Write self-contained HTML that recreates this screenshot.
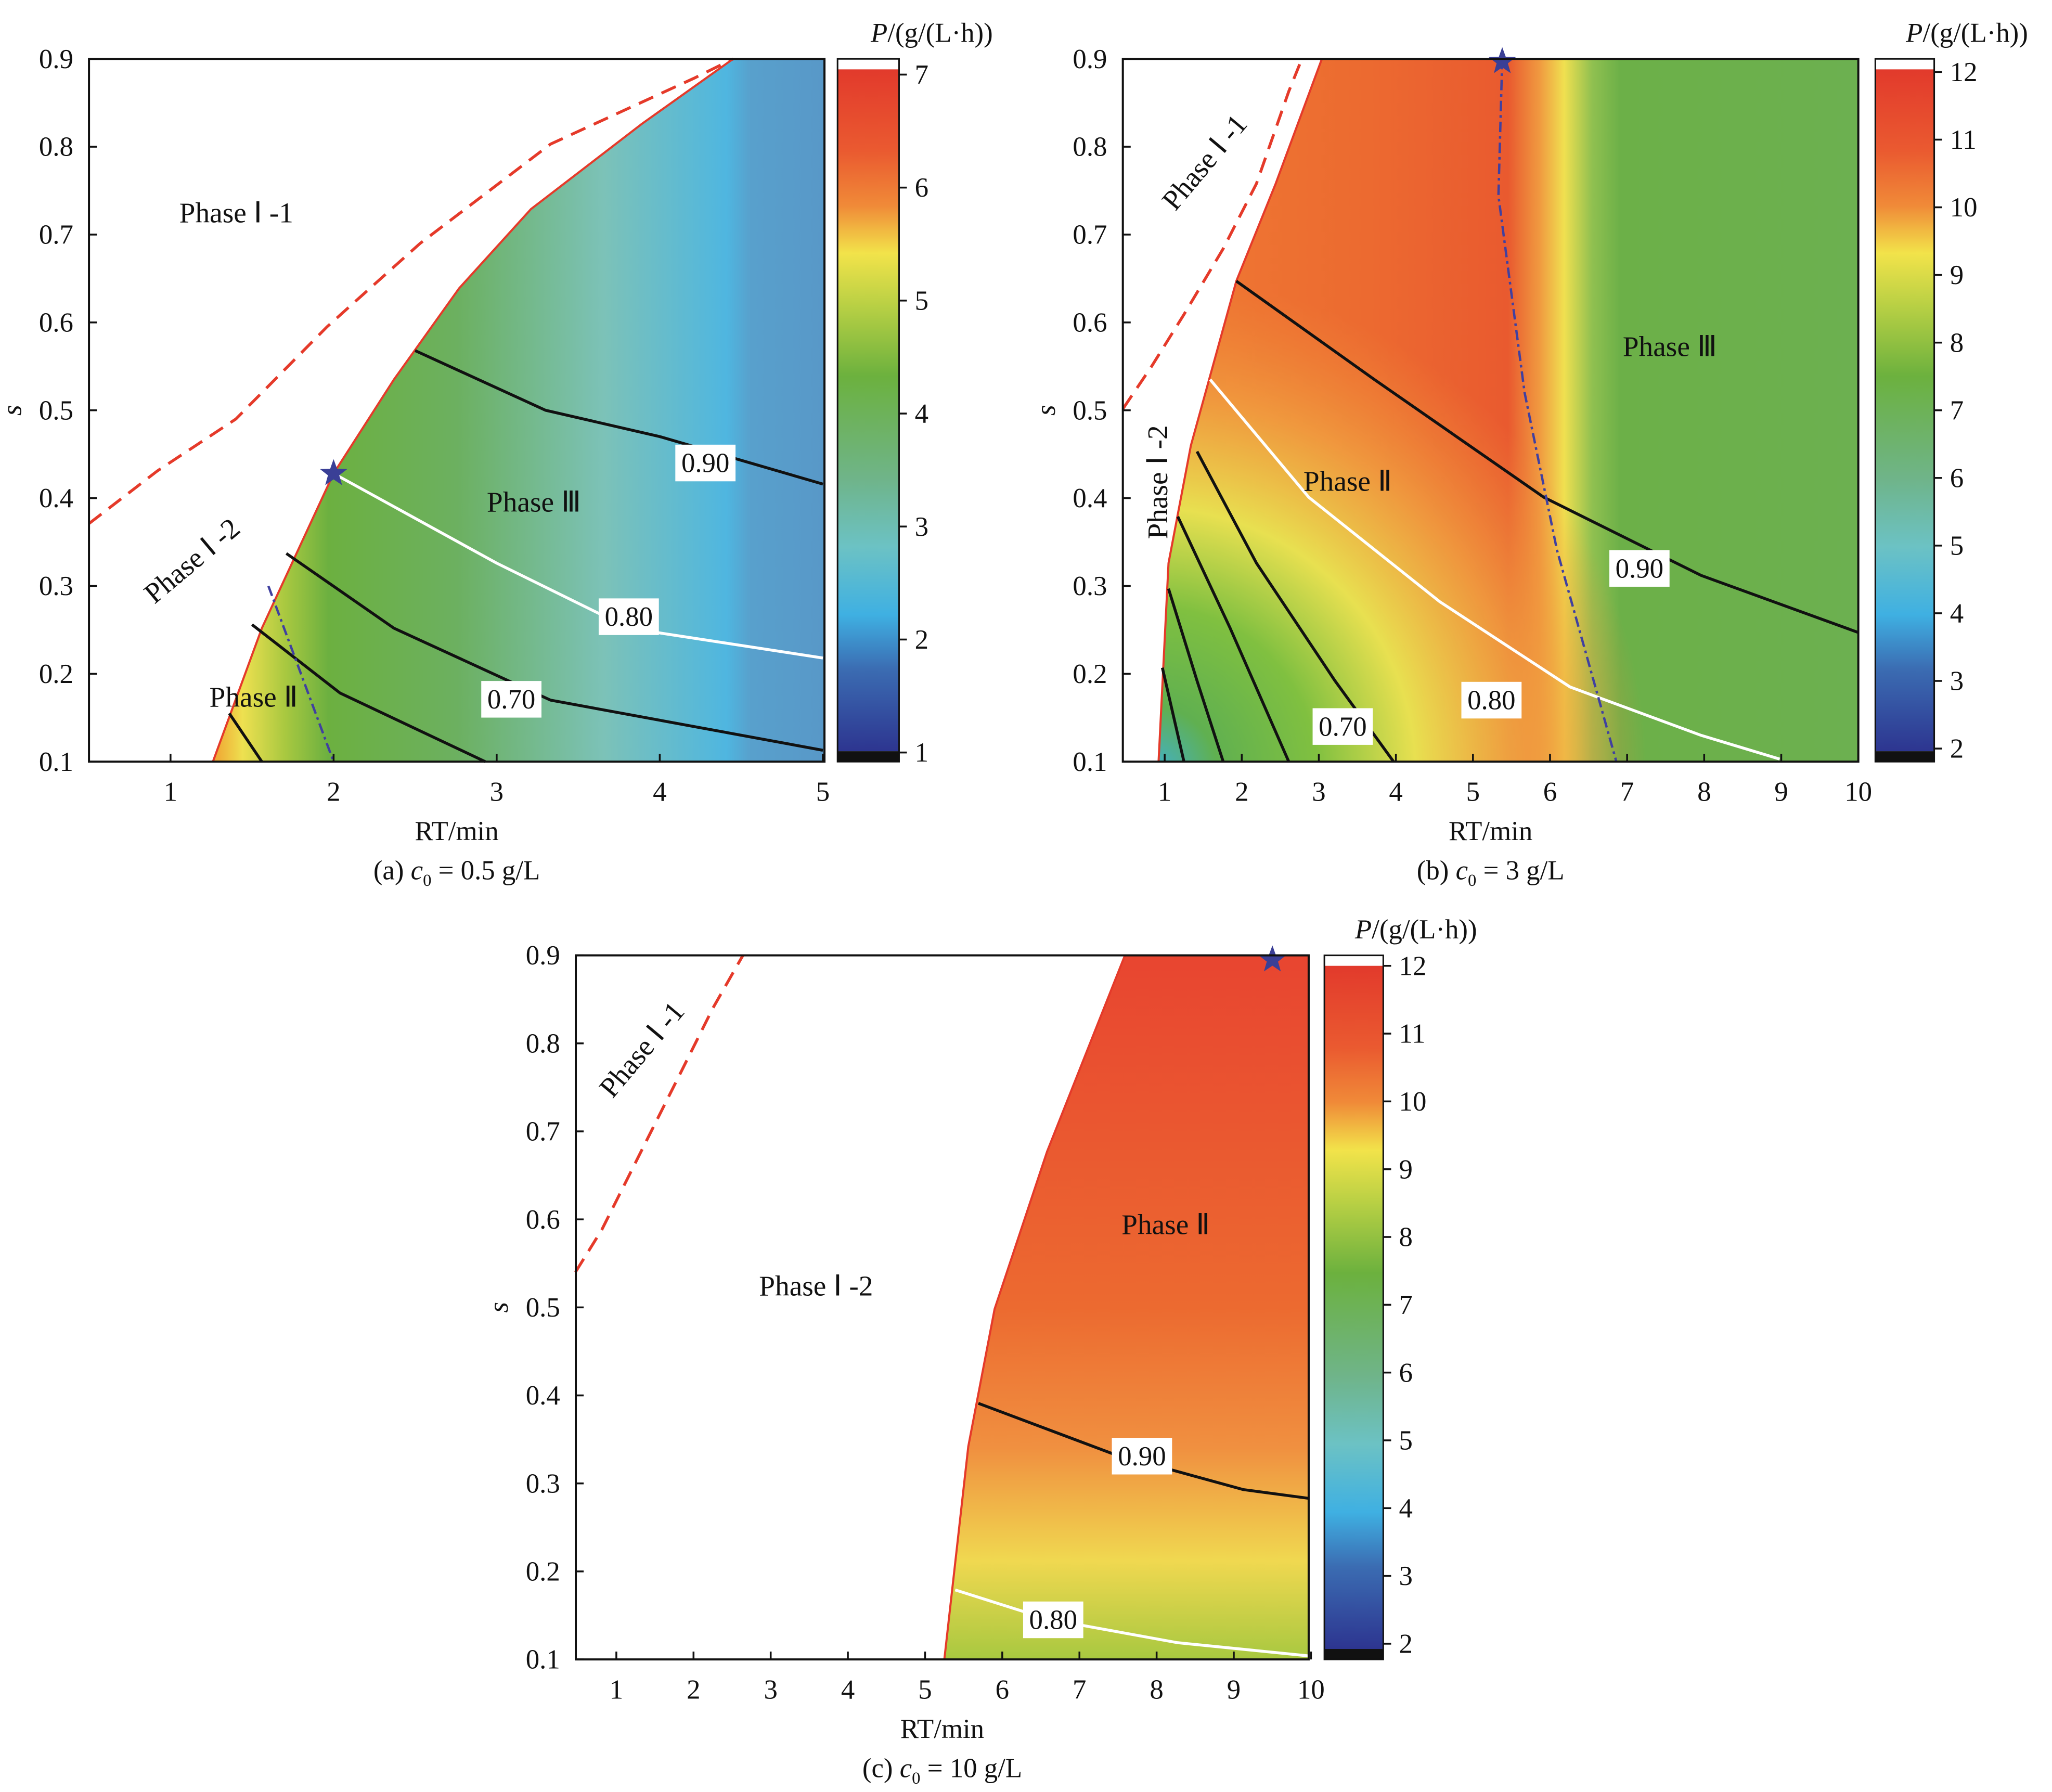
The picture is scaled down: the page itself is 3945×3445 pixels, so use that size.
<!DOCTYPE html>
<html><head><meta charset="utf-8"><style>
html,body{margin:0;padding:0;background:#fff;}
svg{display:block;}
text{font-family:"Liberation Serif",serif;fill:#111;}
</style></head><body>
<svg id="root" width="3945" height="3445" viewBox="0 0 1568 1369.3" preserveAspectRatio="none">
<defs>
<linearGradient id="cbar" x1="0" y1="0" x2="0" y2="1">
<stop offset="0" stop-color="#e23a2c"/><stop offset="0.12" stop-color="#ea5a30"/><stop offset="0.2" stop-color="#f08a38"/>
<stop offset="0.27" stop-color="#f2e34a"/><stop offset="0.35" stop-color="#b6cf44"/><stop offset="0.45" stop-color="#6cb13e"/>
<stop offset="0.6" stop-color="#6fb489"/><stop offset="0.7" stop-color="#6cc2c4"/><stop offset="0.8" stop-color="#3fb0e2"/>
<stop offset="0.88" stop-color="#3b6cb2"/><stop offset="1" stop-color="#2d3590"/>
</linearGradient>
<linearGradient id="ga" gradientUnits="userSpaceOnUse" x1="162" y1="0" x2="630" y2="0">
<stop offset="0" stop-color="#f0a030"/><stop offset="0.05" stop-color="#eee050"/><stop offset="0.12" stop-color="#a8c840"/>
<stop offset="0.19" stop-color="#6cb040"/><stop offset="0.4" stop-color="#6cb060"/><stop offset="0.64" stop-color="#7cc2b8"/>
<stop offset="0.84" stop-color="#4fb6e0"/><stop offset="0.88" stop-color="#58a0cc"/><stop offset="1" stop-color="#5898c8"/>
</linearGradient>
<linearGradient id="gb" gradientUnits="userSpaceOnUse" x1="885" y1="0" x2="1420" y2="0">
<stop offset="0" stop-color="#ef7a33"/><stop offset="0.3" stop-color="#ec6a30"/><stop offset="0.5" stop-color="#e95a2f"/><stop offset="0.545" stop-color="#f09a40"/>
<stop offset="0.58" stop-color="#f0e050"/><stop offset="0.62" stop-color="#90c050"/><stop offset="0.66" stop-color="#6cb048"/>
<stop offset="1" stop-color="#6cb050"/>
</linearGradient>
<radialGradient id="rb" gradientUnits="userSpaceOnUse" cx="880" cy="590" r="420">
<stop offset="0" stop-color="#40b0d0"/><stop offset="0.12" stop-color="#60b050"/><stop offset="0.3" stop-color="#80c040"/>
<stop offset="0.48" stop-color="#e8e050"/><stop offset="0.68" stop-color="#f0a040" stop-opacity="0.85"/><stop offset="0.9" stop-color="#f08a38" stop-opacity="0"/>
</radialGradient>
<linearGradient id="gc" gradientUnits="userSpaceOnUse" x1="0" y1="730" x2="0" y2="1268">
<stop offset="0" stop-color="#e84530"/><stop offset="0.5" stop-color="#ec6a30"/><stop offset="0.7" stop-color="#f09040"/>
<stop offset="0.86" stop-color="#f0d850"/><stop offset="1" stop-color="#a8c840"/>
</linearGradient>
</defs>
<g id="pa"></g>
<g id="pb"></g>
<g id="pc"></g>
</svg>
<script>
// ---- Panel a data (RT, s) ----
const aXTicks=[1,2,3,4,5];
const aBoundaryRT=[1.26,1.56,2.0,2.37,2.77,3.21,3.89,4.45];
const aBoundaryS=[0.1,0.252,0.428,0.535,0.639,0.729,0.826,0.9];
const aC90RT=[2.5,3.3,4.0,5.0], aC90S=[0.568,0.50,0.47,0.416];
const aC80RT=[2.0,3.0,3.81,5.0], aC80S=[0.428,0.326,0.252,0.218];
const aC70RT=[1.71,2.37,3.33,5.0], aC70S=[0.337,0.252,0.17,0.113];
const aC60RT=[1.5,2.04,2.93], aC60S=[0.256,0.178,0.1];
const aC50RT=[1.36,1.56], aC50S=[0.155,0.1];
const aDashRT=[1.6,2.0], aDashS=[0.3,0.1];
const aPhaseRT=[0.5,0.92,1.4,1.96,2.53,3.33,4.21,4.45], aPhaseS=[0.371,0.431,0.49,0.595,0.69,0.803,0.878,0.9];
const aStar=[2.0,0.428];
const aLabels=[["0.90",4.28,0.44],["0.80",3.81,0.265],["0.70",3.09,0.171]];
const aCbTicks=[1,2,3,4,5,6,7];
// ---- Panel b data ----
const bXTicks=[1,2,3,4,5,6,7,8,9,10];
const bBoundaryRT=[0.92,1.05,1.34,1.93,2.44,3.04], bBoundaryS=[0.1,0.326,0.46,0.647,0.758,0.9];
const bC90RT=[1.93,3.72,5.92,7.96,10], bC90S=[0.647,0.535,0.401,0.312,0.247];
const bC80RT=[1.59,2.87,4.57,6.26,7.96,8.98], bC80S=[0.535,0.401,0.282,0.185,0.130,0.103];
const bL1RT=[1.42,2.19,3.21,3.97], bL1S=[0.453,0.326,0.192,0.1];
const bL2RT=[1.17,1.85,2.61], bL2S=[0.379,0.252,0.1];
const bL3RT=[1.05,1.42,1.76], bL3S=[0.297,0.192,0.1];
const bL4RT=[0.97,1.25], bL4S=[0.207,0.1];
const bDashRT=[5.38,5.33,5.67,6.09,6.86], bDashS=[0.9,0.744,0.52,0.341,0.1];
const bPhaseRT=[0.46,0.83,1.25,1.76,2.19,2.61,2.78], bPhaseS=[0.502,0.55,0.609,0.684,0.758,0.863,0.9];
const bStar=[5.38,0.897];
const bLabels=[["0.90",7.16,0.32],["0.80",5.24,0.17],["0.70",3.31,0.14]];
const bCbTicks=[2,3,4,5,6,7,8,9,10,11,12];
// ---- Panel c data ----
const cXTicks=[1,2,3,4,5,6,7,8,9,10];
const cBoundaryRT=[5.25,5.56,5.9,6.58,7.59], cBoundaryS=[0.1,0.342,0.498,0.677,0.9];
const cC90RT=[5.69,7.42,9.12,9.97], cC90S=[0.391,0.334,0.293,0.283];
const cC80RT=[5.39,6.58,8.27,9.97], cC80S=[0.179,0.146,0.119,0.104];
const cPhaseRT=[0.47,0.81,1.32,1.83,2.25,2.64], cPhaseS=[0.54,0.588,0.677,0.766,0.84,0.9];
const cStar=[9.5,0.895];
const cLabels=[["0.90",7.81,0.331],["0.80",6.66,0.145]];
const cCbTicks=[2,3,4,5,6,7,8,9,10,11,12];
const yTicks=[0.1,0.2,0.3,0.4,0.5,0.6,0.7,0.8,0.9];

const NS="http://www.w3.org/2000/svg";
function mk(parent,tag,attrs,txt){const e=document.createElementNS(NS,tag);for(const k in attrs)e.setAttribute(k,attrs[k]);if(txt!==undefined)e.textContent=txt;parent.appendChild(e);return e;}
function pathD(X,Y,rt,s){return rt.map((v,i)=>(i?"L":"M")+X(v).toFixed(1)+","+Y(s[i]).toFixed(1)).join(" ");}

function panel(g,cfg){
 const {L,R,T,B,x0,x1}=cfg;
 const X=v=>L+(v-x0)/(x1-x0)*(R-L);
 const Y=s=>B-(s-0.1)/0.8*(B-T);
 let d=pathD(X,Y,cfg.bRT,cfg.bS)+` L${R},${T} L${R},${B} Z`;
 let f=mk(g,"path",{d:d,fill:cfg.fill});
 
 
 if(cfg.overlay){let o=mk(g,"path",{d:d,fill:cfg.overlay});
  
  }
 let bl=mk(g,"path",{d:pathD(X,Y,cfg.bRT,cfg.bS),fill:"none",stroke:"#e53a2a","stroke-width":1.6});
 
 
 cfg.contours.forEach(c=>{let p=mk(g,"path",{d:pathD(X,Y,c[0],c[1]),fill:"none",stroke:c[2],"stroke-width":2.2});
  
  });
 if(cfg.dash){let p=mk(g,"path",{d:pathD(X,Y,cfg.dash[0],cfg.dash[1]),fill:"none",stroke:"#4040a0","stroke-width":1.8,"stroke-dasharray":"8 3 2 3"});
  
  }
 let ph=mk(g,"path",{d:pathD(X,Y,cfg.phRT,cfg.phS),fill:"none",stroke:"#e53a2a","stroke-width":2.2,"stroke-dasharray":"12 7"});
 
 
 cfg.labels.forEach(l=>{const cx=X(l[1]),cy=Y(l[2]);
  let r=mk(g,"rect",{x:cx-23,y:cy-14,width:46,height:28,fill:"#fff"});
  
  
  let t=mk(g,"text",{x:cx,y:cy+7,"text-anchor":"middle","font-size":21},l[0]);
  
  });
 const sx=X(cfg.star[0]),sy=Y(cfg.star[1]);let pts=[];
 for(let i=0;i<10;i++){const a=-Math.PI/2+i*Math.PI/5,r=i%2?4.5:11;pts.push((sx+r*Math.cos(a)).toFixed(1)+","+(sy+r*Math.sin(a)).toFixed(1));}
 let st=mk(g,"polygon",{points:pts.join(" "),fill:"#3a3f96"});
 
 
 let fr=mk(g,"rect",{x:L,y:T,width:R-L,height:B-T,fill:"none",stroke:"#111","stroke-width":1.6});
 
 
 cfg.xt.forEach(v=>{mk(g,"line",{x1:X(v),x2:X(v),y1:B,y2:B-6,stroke:"#111","stroke-width":1.4});
  let t=mk(g,"text",{x:X(v),y:B+30,"text-anchor":"middle","font-size":21},String(v));
  
  });
 yTicks.forEach(v=>{mk(g,"line",{x1:L,x2:L+6,y1:Y(v),y2:Y(v),stroke:"#111","stroke-width":1.4});
  let t=mk(g,"text",{x:L-12,y:Y(v)+7,"text-anchor":"end","font-size":21},v.toFixed(1));
  
  });
 let xt=mk(g,"text",{x:(L+R)/2,y:B+60,"text-anchor":"middle","font-size":21},"RT/min");
 
 
 let yt=mk(g,"text",{x:0,y:0,"text-anchor":"middle","font-size":21,"font-style":"italic",transform:`translate(${L-52},${Y(0.5)}) rotate(-90)`},"s");
 
 
 let cap=mk(g,"text",{x:(L+R)/2,y:B+90,"text-anchor":"middle","font-size":21});
 
 
 cap.innerHTML=cfg.cap;
 const {cbL,cbR,cbT,cbB,cbTop,cbBot,cbMin,cbMax}=cfg;
 const CY=v=>cbBot-(v-cbMin)/(cbMax-cbMin)*(cbBot-cbTop);
 mk(g,"rect",{x:cbL,y:cbT,width:cbR-cbL,height:cbB-cbT,fill:"#fff"});
 let cb=mk(g,"rect",{x:cbL,y:cbT+8,width:cbR-cbL,height:cbB-cbT-16,fill:"url(#cbar)"});
 
 
 mk(g,"rect",{x:cbL,y:cbB-8,width:cbR-cbL,height:8,fill:"#111"});
 mk(g,"rect",{x:cbL,y:cbT,width:cbR-cbL,height:cbB-cbT,fill:"none",stroke:"#111","stroke-width":1.2});
 cfg.cbt.forEach(v=>{mk(g,"line",{x1:cbR,x2:cbR+6,y1:CY(v),y2:CY(v),stroke:"#111","stroke-width":1.4});
  let t=mk(g,"text",{x:cbR+12,y:CY(v)+7,"font-size":21},String(v));
  
  });
 let ct=mk(g,"text",{x:cbR+25,y:cbT-13,"text-anchor":"middle","font-size":21});
 
 
 ct.innerHTML='<tspan font-style="italic">P</tspan>/(g/(L·h))';
 cfg.phases.forEach(p=>{let t=mk(g,"text",{x:0,y:0,"font-size":22,transform:`translate(${p[1]},${p[2]}) rotate(${p[3]})`},p[0]);
  
  });
}
panel(document.getElementById('pa'),{L:68,R:630,T:45,B:582,x0:0.5,x1:5.01,xt:aXTicks,
 bRT:aBoundaryRT,bS:aBoundaryS,fill:"url(#ga)",
 contours:[[aC90RT,aC90S,"#111"],[aC80RT,aC80S,"#fff"],[aC70RT,aC70S,"#111"],[aC60RT,aC60S,"#111"],[aC50RT,aC50S,"#111"]],
 dash:[aDashRT,aDashS],phRT:aPhaseRT,phS:aPhaseS,star:aStar,labels:aLabels,
 cap:'(a) <tspan font-style="italic">c</tspan><tspan font-size="13" dy="5">0</tspan><tspan dy="-5"> = 0.5 g/L</tspan>',
 cbL:640,cbR:687,cbT:45,cbB:582,cbTop:57,cbBot:575,cbMin:1,cbMax:7,cbt:aCbTicks,
 phases:[["Phase Ⅰ -1",137,170,0],["Phase Ⅰ -2",118,462,-40],["Phase Ⅲ",372,391,0],["Phase Ⅱ",160,540,0]]});
panel(document.getElementById('pb'),{L:858,R:1420,T:45,B:582,x0:0.457,x1:10,xt:bXTicks,
 bRT:bBoundaryRT,bS:bBoundaryS,fill:"url(#gb)",overlay:"url(#rb)",
 contours:[[bC90RT,bC90S,"#111"],[bC80RT,bC80S,"#fff"],[bL1RT,bL1S,"#111"],[bL2RT,bL2S,"#111"],[bL3RT,bL3S,"#111"],[bL4RT,bL4S,"#111"]],
 dash:[bDashRT,bDashS],phRT:bPhaseRT,phS:bPhaseS,star:bStar,labels:bLabels,
 cap:'(b) <tspan font-style="italic">c</tspan><tspan font-size="13" dy="5">0</tspan><tspan dy="-5"> = 3 g/L</tspan>',
 cbL:1433,cbR:1478,cbT:45,cbB:582,cbTop:55,cbBot:572,cbMin:2,cbMax:12,cbt:bCbTicks,
 phases:[["Phase Ⅰ -1",898,162,-50],["Phase Ⅰ -2",892,412,-90],["Phase Ⅲ",1240,272,0],["Phase Ⅱ",996,375,0]]});
panel(document.getElementById('pc'),{L:440,R:1000,T:730,B:1268,x0:0.475,x1:9.97,xt:cXTicks,
 bRT:cBoundaryRT,bS:cBoundaryS,fill:"url(#gc)",
 contours:[[cC90RT,cC90S,"#111"],[cC80RT,cC80S,"#fff"]],
 phRT:cPhaseRT,phS:cPhaseS,star:cStar,labels:cLabels,
 cap:'(c) <tspan font-style="italic">c</tspan><tspan font-size="13" dy="5">0</tspan><tspan dy="-5"> = 10 g/L</tspan>',
 cbL:1012,cbR:1057,cbT:730,cbB:1268,cbTop:738,cbBot:1256,cbMin:2,cbMax:12,cbt:cCbTicks,
 phases:[["Phase Ⅰ -1",468,840,-50],["Phase Ⅰ -2",580,990,0],["Phase Ⅱ",857,943,0]]});
</script>
</body></html>
